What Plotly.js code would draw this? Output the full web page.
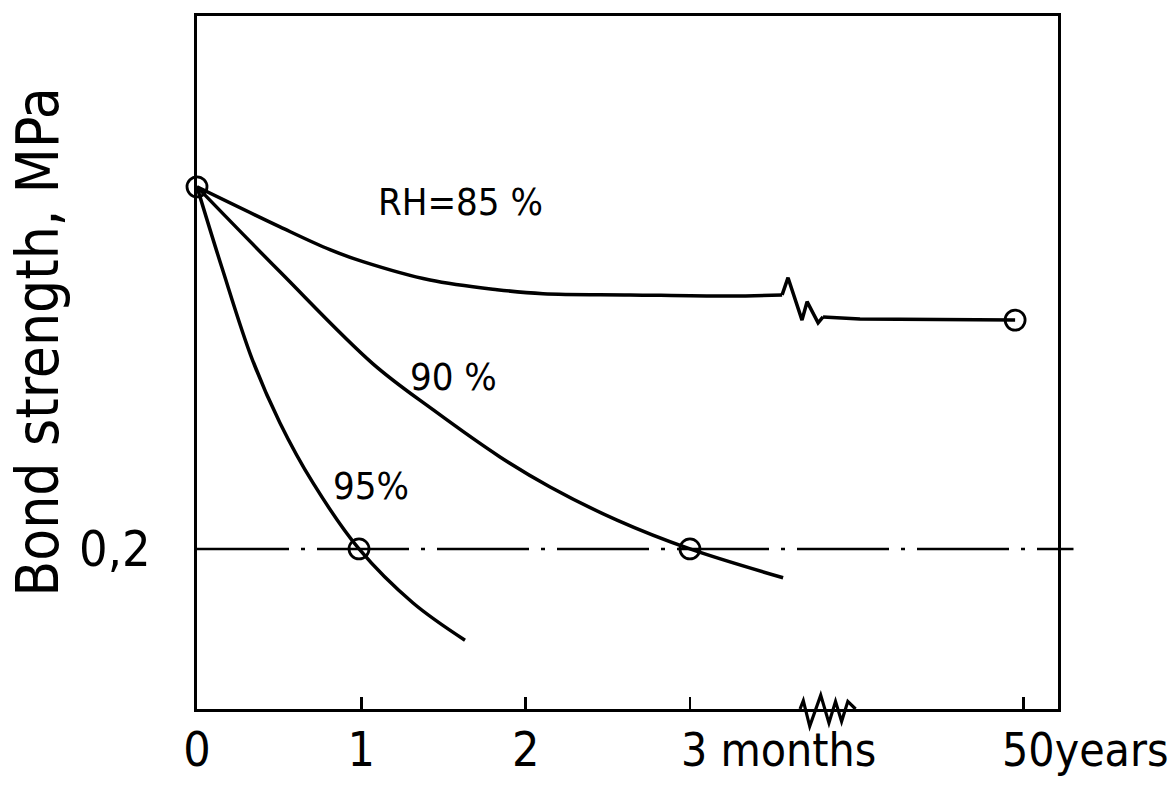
<!DOCTYPE html>
<html><head><meta charset="utf-8">
<script src="https://cdn.plot.ly/plotly-3.0.1.min.js"></script>
<style>html,body{margin:0;padding:0;background:#fff;}#chart{width:1172px;height:785px;}</style>
</head><body><div id="chart"></div>
<script>
// x = position on the (broken) time axis: 0..3 months, then break, then 50 years
const xTickVals = [0, 1, 2, 3, 5.03];
const xTickText = ["0", "1", "2", "3 months", "50years"];
const yTickVals = [0.2];
const yTickText = ["0,2"];
const yTitle = "Bond strength, MPa";
const limitStrength = 0.2;

const rh85X = [0, 0.505, 0.809, 1.010, 1.418, 1.826, 2.106, 2.635, 3.244, 3.561];
const rh85Y = [0.6525, 0.6025, 0.574, 0.559, 0.536, 0.524, 0.519, 0.5175, 0.516, 0.5175];
const rh85BreakX = [3.561, 3.597, 3.682, 3.713, 3.780, 3.810];
const rh85BreakY = [0.5175, 0.539, 0.486, 0.509, 0.4825, 0.49];
const rh85LongX = [3.810, 4.035, 4.979];
const rh85LongY = [0.49, 0.4875, 0.486];

const rh90X = [0, 0.505, 1.071, 1.436, 1.844, 2.149, 2.556, 3.0, 3.567];
const rh90Y = [0.6525, 0.5463, 0.4313, 0.374, 0.315, 0.2775, 0.236, 0.2, 0.164];

const rh95X = [0, 0.152, 0.335, 0.505, 0.706, 0.986, 1.315, 1.631];
const rh95Y = [0.6525, 0.5513, 0.4375, 0.3575, 0.2825, 0.2, 0.1325, 0.086];

const pointX = [0, 0.986, 3.0, 4.979];
const pointY = [0.6525, 0.2, 0.2, 0.486];

const curveLabels = ["RH=85 %", "90 %", "95%"];
const curveLabelX = [1.606, 1.563, 1.059];
const curveLabelY = [0.634, 0.415, 0.279];

// axis break symbol on the time axis (x in data units, y in paper units)
const axisBreakX = [3.670, 3.690, 3.729, 3.796, 3.846, 3.886, 3.923, 3.961, 4.008];
const axisBreakY = [0.0, 0.012, -0.025, 0.02, -0.020, 0.011, -0.018, 0.011, 0.0];

const FONT = "'DejaVu Sans Condensed', 'Liberation Sans Narrow', 'Roboto Condensed', sans-serif";
const K = '#000';
const lineStyle = {color: K, width: 3.5};
const splineStyle = Object.assign({shape: 'spline', smoothing: 1.0}, lineStyle);

const traces = [
  {x: rh85X, y: rh85Y, mode: 'lines', line: splineStyle, name: 'RH=85 %'},
  {x: rh85BreakX, y: rh85BreakY, mode: 'lines', line: lineStyle, name: 'RH=85 % break'},
  {x: rh85LongX, y: rh85LongY, mode: 'lines', line: lineStyle, name: 'RH=85 % long term'},
  {x: rh90X, y: rh90Y, mode: 'lines', line: splineStyle, name: '90 %'},
  {x: rh95X, y: rh95Y, mode: 'lines', line: splineStyle, name: '95%'},
  {x: pointX, y: pointY, mode: 'markers', cliponaxis: false,
   marker: {symbol: 'circle-open', size: 20, color: K, line: {color: K, width: 2.8}}, name: 'points'}
];

let breakPath = 'M ' + axisBreakX[0] + ',' + axisBreakY[0];
for (let i = 1; i < axisBreakX.length; i++) breakPath += ' L ' + axisBreakX[i] + ',' + axisBreakY[i];

const annotations = curveLabels.map((t, i) => ({
  x: curveLabelX[i], y: curveLabelY[i], xref: 'x', yref: 'y', text: t, showarrow: false,
  font: {family: FONT, size: 38, color: K}
}));
annotations.push({x: xTickVals[3], y: 0, xref: 'x', yref: 'paper', text: xTickText[3], showarrow: false,
  xanchor: 'left', yanchor: 'top', xshift: -11, yshift: -12, font: {family: FONT, size: 46, color: K}});
annotations.push({x: xTickVals[4], y: 0, xref: 'x', yref: 'paper', text: xTickText[4], showarrow: false,
  xanchor: 'left', yanchor: 'top', xshift: -23, yshift: -12, font: {family: FONT, size: 46, color: K}});
annotations.push({x: -0.185, y: 0.53, xref: 'paper', yref: 'paper', text: yTitle, showarrow: false,
  textangle: -90, xanchor: 'center', yanchor: 'middle', font: {family: FONT, size: 58, color: K}});

const layout = {
  width: 1172, height: 785,
  margin: {l: 197, r: 114, t: 16, b: 76, pad: 0},
  paper_bgcolor: '#fff', plot_bgcolor: '#fff',
  showlegend: false,
  font: {family: FONT, color: K},
  xaxis: {
    range: [0, 5.24], showgrid: false, zeroline: false,
    showline: true, mirror: true, linecolor: K, linewidth: 3.4,
    ticks: 'inside', ticklen: 12, tickwidth: 2.5, tickcolor: K,
    tickvals: xTickVals, ticktext: xTickText.map((t, i) => i < 3 ? t : ''),
    ticklabelstandoff: -4,
    tickfont: {family: FONT, size: 48, color: K}
  },
  yaxis: {
    range: [0, 0.866], showgrid: false, zeroline: false,
    showline: true, mirror: true, linecolor: K, linewidth: 3.4,
    ticks: '', tickvals: yTickVals, ticktext: yTickText, ticklabelstandoff: 33,
    tickfont: {family: FONT, size: 50, color: K}
  },
  shapes: [
    {type: 'line', xref: 'paper', yref: 'y', x0: 0, x1: 1.018, y0: limitStrength, y1: limitStrength,
     line: {color: K, width: 2.6, dash: '92px,12px,4px,12px'}},
    {type: 'path', xref: 'x', yref: 'paper', path: breakPath, line: {color: K, width: 3.2}}
  ],
  annotations: annotations
};

Plotly.newPlot('chart', traces, layout, {displayModeBar: false, staticPlot: true});
</script></body></html>
